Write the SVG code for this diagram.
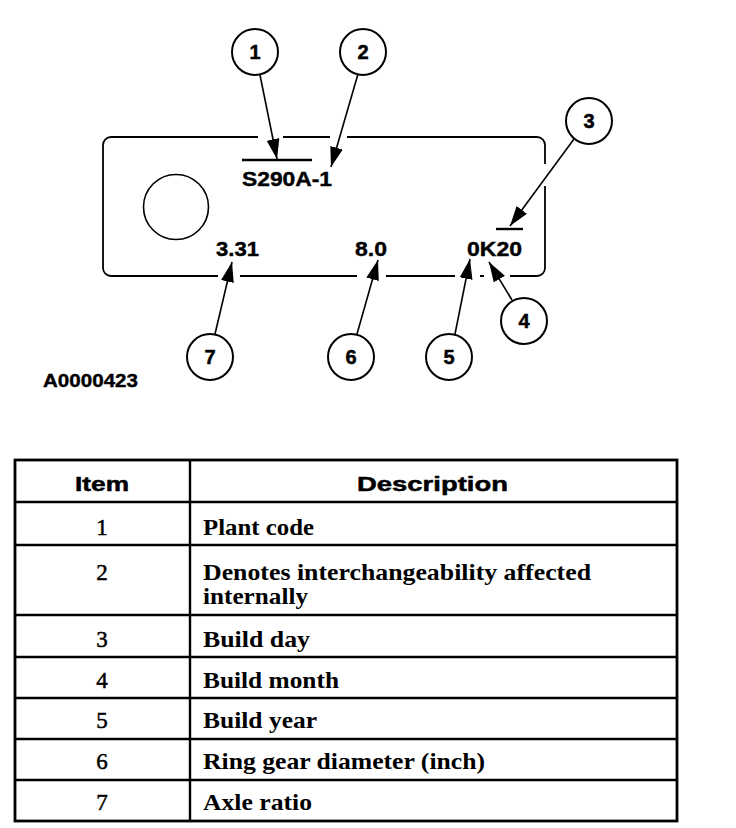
<svg xmlns="http://www.w3.org/2000/svg" width="736" height="828" viewBox="0 0 736 828">
<style>
.bg{fill:#fff}
.plate{fill:none;stroke:#000;stroke-width:1.8;stroke-linecap:butt}
.hole{fill:none;stroke:#000;stroke-width:1.6}
.bar{stroke:#000;stroke-width:2.4}
.callout circle{fill:#fff;stroke:#000;stroke-width:2}
.callout text{font-family:"Liberation Sans",Arial,sans-serif;font-weight:bold;font-size:20px;text-anchor:middle;fill:#000;stroke:#000;stroke-width:0.5}
.lbl{font-family:"Liberation Sans",Arial,sans-serif;font-weight:bold;font-size:20px;fill:#000;stroke:#000;stroke-width:0.4}
.arrow{stroke:#000;stroke-width:1.6;fill:none;marker-end:url(#ah)}
.grid{stroke:#000;stroke-width:2.4;fill:none}
.hd{font-family:"Liberation Sans",Arial,sans-serif;font-weight:bold;font-size:21px;fill:#000;stroke:#000;stroke-width:0.5}
.td{font-family:"Liberation Serif","Times New Roman",serif;font-weight:bold;font-size:23px;fill:#000}
.num{text-anchor:middle;font-weight:normal;stroke:#000;stroke-width:0.5}
</style>
<defs>
<marker id="ah" markerUnits="userSpaceOnUse" markerWidth="22" markerHeight="14" refX="20" refY="6.5" orient="auto">
<path d="M0,0 L20,6.5 L0,13 z" fill="#000"/>
</marker>
</defs>
<rect class="bg" x="0" y="0" width="736" height="828"/>

<g id="plate">
<path class="plate" d="M258 137 H111 A8 8 0 0 0 103 145 V268 A8 8 0 0 0 111 276 H218 M240 276 H357 M386 276 H455 M480 276 H484 M510 276 H537 A8 8 0 0 0 545 268 V186 M545 164 V145 A8 8 0 0 0 537 137 H347 M330 137 H283"/>
<circle class="hole" cx="176" cy="207" r="32.5"/>
<line class="bar" x1="242" y1="160" x2="312" y2="160"/>
<line class="bar" x1="496" y1="229" x2="523" y2="229"/>
<text class="lbl" x="242" y="186" textLength="90" lengthAdjust="spacingAndGlyphs">S290A-1</text>
<text class="lbl" x="216" y="256" textLength="43" lengthAdjust="spacingAndGlyphs">3.31</text>
<text class="lbl" x="355" y="256" textLength="32" lengthAdjust="spacingAndGlyphs">8.0</text>
<text class="lbl" x="467" y="256" textLength="55" lengthAdjust="spacingAndGlyphs">0K20</text>
</g>

<g id="connectors">
<line class="arrow" x1="260" y1="75" x2="277" y2="159"/>
<line class="arrow" x1="358" y1="74" x2="331" y2="167"/>
<line class="arrow" x1="574" y1="139" x2="510" y2="226"/>
<line class="arrow" x1="512" y1="300" x2="489" y2="262"/>
<line class="arrow" x1="455" y1="334" x2="470" y2="259"/>
<line class="arrow" x1="357" y1="334" x2="378" y2="260"/>
<line class="arrow" x1="215" y1="334" x2="232" y2="262"/>
</g>

<g id="c1" class="callout"><circle cx="255" cy="52" r="23"/><text x="255" y="59">1</text></g>
<g id="c2" class="callout"><circle cx="363" cy="52" r="23"/><text x="363" y="59">2</text></g>
<g id="c3" class="callout"><circle cx="589" cy="121" r="23"/><text x="589" y="128">3</text></g>
<g id="c4" class="callout"><circle cx="524" cy="321" r="23"/><text x="524" y="328">4</text></g>
<g id="c5" class="callout"><circle cx="449" cy="357" r="23"/><text x="449" y="364">5</text></g>
<g id="c6" class="callout"><circle cx="351" cy="357" r="23"/><text x="351" y="364">6</text></g>
<g id="c7" class="callout"><circle cx="210" cy="357" r="23"/><text x="210" y="364">7</text></g>

<text id="figid" class="lbl" x="43" y="387" style="font-size:19px" textLength="95" lengthAdjust="spacingAndGlyphs">A0000423</text>

<g id="table">
<rect class="grid" x="15" y="460" width="662" height="361" style="stroke-width:2.8"/>
<line class="grid" x1="190" y1="460" x2="190" y2="821"/>
<line class="grid" x1="15" y1="502" x2="677" y2="502"/>
<line class="grid" x1="15" y1="545" x2="677" y2="545"/>
<line class="grid" x1="15" y1="615" x2="677" y2="615"/>
<line class="grid" x1="15" y1="657" x2="677" y2="657"/>
<line class="grid" x1="15" y1="698" x2="677" y2="698"/>
<line class="grid" x1="15" y1="739" x2="677" y2="739"/>
<line class="grid" x1="15" y1="780" x2="677" y2="780"/>

<text class="hd" x="75" y="491" textLength="54" lengthAdjust="spacingAndGlyphs">Item</text>
<text class="hd" x="357" y="491" textLength="151" lengthAdjust="spacingAndGlyphs">Description</text>

<text class="td num" x="102" y="535">1</text>
<text class="td" x="203" y="535" textLength="111" lengthAdjust="spacingAndGlyphs">Plant code</text>
<text class="td num" x="102" y="580">2</text>
<text class="td" x="203" y="580" textLength="388" lengthAdjust="spacingAndGlyphs">Denotes interchangeability affected</text>
<text class="td" x="203" y="604" textLength="105" lengthAdjust="spacingAndGlyphs">internally</text>
<text class="td num" x="102" y="647">3</text>
<text class="td" x="203" y="647" textLength="107" lengthAdjust="spacingAndGlyphs">Build day</text>
<text class="td num" x="102" y="688">4</text>
<text class="td" x="203" y="688" textLength="136" lengthAdjust="spacingAndGlyphs">Build month</text>
<text class="td num" x="102" y="728">5</text>
<text class="td" x="203" y="728" textLength="114" lengthAdjust="spacingAndGlyphs">Build year</text>
<text class="td num" x="102" y="769">6</text>
<text class="td" x="203" y="769" textLength="282" lengthAdjust="spacingAndGlyphs">Ring gear diameter (inch)</text>
<text class="td num" x="102" y="810">7</text>
<text class="td" x="203" y="810" textLength="109" lengthAdjust="spacingAndGlyphs">Axle ratio</text>
</g>
</svg>
